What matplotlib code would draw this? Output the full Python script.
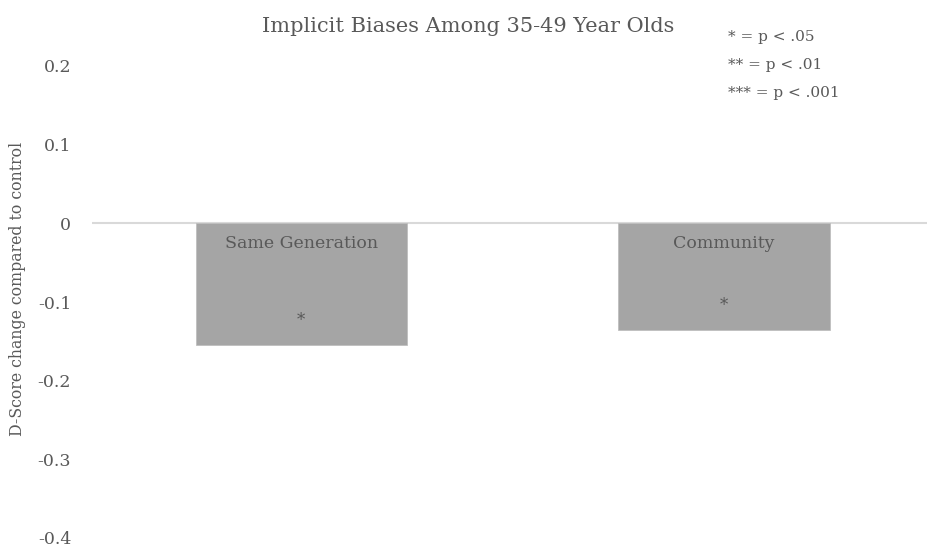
import matplotlib
matplotlib.use("Agg")
import matplotlib.pyplot as plt

groups = ["Same Generation", "Community"]
d_change = [-0.155, -0.135]
stars = ["*", "*"]
yticks = [0.2, 0.1, 0, -0.1, -0.2, -0.3, -0.4]
ytick_labels = ["0.2", "0.1", "0", "-0.1", "-0.2", "-0.3", "-0.4"]
key_lines = ["* = p < .05", "** = p < .01", "*** = p < .001"]

text_col = "#595959"
bar_col = "#a5a5a5"
plt.rcParams["font.family"] = ["DejaVu Serif"]

fig = plt.figure(figsize=(9.27, 5.52), dpi=100)
ax = fig.add_axes([92 / 927, 1 - 538 / 552, 835 / 927, 472 / 552])

x = list(range(len(groups)))
ax.bar(x, d_change, width=0.5, color=bar_col, edgecolor="#bfbfbf", linewidth=0.6, zorder=2)
ax.axhline(0, color="#d9d9d9", linewidth=1.5, zorder=1)

for xi, name, val, s in zip(x, groups, d_change, stars):
    ax.text(xi, -0.025, name, ha="center", va="center", fontsize=12.5, color=text_col, zorder=3)
    ax.text(xi, val + 0.031, s, ha="center", va="center", fontsize=12, color=text_col, zorder=3)

ax.set_xlim(-0.495, 1.48)
ax.set_ylim(-0.4, 0.2)
ax.set_yticks(yticks)
ax.set_yticklabels(ytick_labels)
ax.tick_params(axis="y", length=0, pad=15, labelsize=12.5, labelcolor=text_col)
ax.set_xticks([])
for sp in ax.spines.values():
    sp.set_visible(False)

fig.text(0.505, 1 - 26 / 552, "Implicit Biases Among 35-49 Year Olds",
         ha="center", va="center", fontsize=15, color=text_col)
fig.text(18 / 927, 1 - 289 / 552, "D-Score change compared to control",
         rotation=90, ha="center", va="center", fontsize=11.3, color=text_col)
for i, line in enumerate(key_lines):
    fig.text(728 / 927, 1 - (37 + 28 * i) / 552, line,
             ha="left", va="center", fontsize=11, color=text_col)

fig.savefig("out.png", dpi=100)
